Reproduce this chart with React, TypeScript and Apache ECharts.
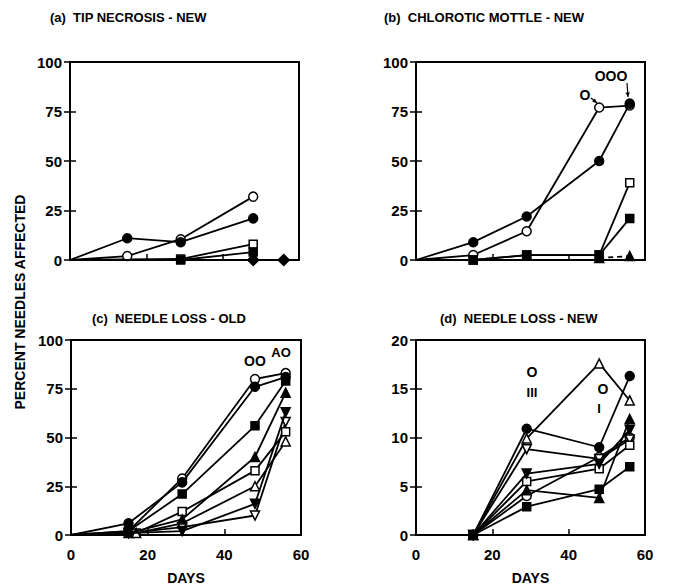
import React, { useEffect, useRef } from "react";
import * as echarts from "echarts";

// ---------- data ----------
const xTicks = [0, 20, 40, 60];
const pctTicks = [0, 25, 50, 75, 100];
const lossNewTicks = [0, 5, 10, 15, 20];

// (a) Tip necrosis - new
const aOpenCircle = [[0, 0], [15, 2], [29, 10.5], [48, 32]];
const aFilledCircle = [[0, 0], [15, 11], [29, 9], [48, 21]];
const aOpenSquare = [[0, 0], [29, 0.5], [48, 8]];
const aFilledSquare = [[0, 0], [29, 0], [48, 4]];
const aFilledDiamond = [[48, 0], [56, 0]];

// (b) Chlorotic mottle - new
const bOpenCircle = [[0, 0], [15, 2.5], [29, 14.5], [48, 77], [56, 78]];
const bFilledCircle = [[0, 0], [15, 9], [29, 22], [48, 50], [56, 79]];
const bOpenSquare = [[0, 0], [15, 0], [29, 2.5], [48, 2.5], [56, 39]];
const bFilledSquare = [[0, 0], [15, 0], [29, 2.5], [48, 2.5], [56, 21]];
const bFilledTriangle = [[48, 1], [56, 2]];

// (c) Needle loss - old
const cOpenCircle = [[0, 0], [15, 2], [29, 29], [48, 80], [56, 83]];
const cFilledCircle = [[0, 0], [15, 6], [29, 27], [48, 76], [56, 81]];
const cFilledSquare = [[0, 0], [15, 2], [29, 21], [48, 56], [56, 79]];
const cFilledTriUp = [[0, 0], [15, 1], [29, 8], [48, 40], [56, 73]];
const cOpenSquare = [[0, 0], [17, 1], [29, 12], [48, 33], [56, 53]];
const cOpenTriUp = [[0, 0], [17, 1], [29, 6], [48, 25], [56, 48]];
const cFilledTriDown = [[0, 0], [15, 1], [29, 2], [48, 16], [56, 63]];
const cOpenTriDown = [[0, 0], [15, 1], [29, 4], [48, 10], [56, 58]];

// (d) Needle loss - new
const dFilledCircle = [[15, 0], [29, 10.9], [48, 9], [56, 16.3]];
const dOpenTriUp = [[15, 0], [29, 9.9], [48, 17.6], [56, 13.8]];
const dOpenTriDown = [[15, 0], [29, 8.8], [48, 7.8], [56, 9.8]];
const dFilledTriDown = [[15, 0], [29, 6.3], [48, 7.3], [56, 10.8]];
const dOpenSquare = [[15, 0], [29, 5.5], [48, 6.8], [56, 9.2]];
const dOpenCircle = [[15, 0], [29, 4], [48, 8], [56, 10]];
const dFilledTriUp = [[15, 0], [29, 4.6], [48, 3.8], [56, 11.9]];
const dFilledSquare = [[15, 0], [29, 2.9], [48, 4.7], [56, 7]];

// ---------- styling helpers ----------
const FONT = "'Liberation Sans Narrow', 'Liberation Sans', Arial, sans-serif";
const DOWN = "path://M0,0 L10,0 L5,9 Z";

type Mk = { symbol: string; filled: boolean; size?: number };
const OC: Mk = { symbol: "circle", filled: false };
const FC: Mk = { symbol: "circle", filled: true };
const OS: Mk = { symbol: "rect", filled: false, size: 8 };
const FS: Mk = { symbol: "rect", filled: true, size: 8 };
const OT: Mk = { symbol: "triangle", filled: false };
const FT: Mk = { symbol: "triangle", filled: true };
const OD: Mk = { symbol: DOWN, filled: false };
const FD: Mk = { symbol: DOWN, filled: true };
const DI: Mk = { symbol: "diamond", filled: true, size: 11 };

function series(
  grid: number,
  data: number[][],
  mk: Mk,
  dashed = false,
  startAt0 = true
) {
  return {
    type: "line",
    xAxisIndex: grid * 2,
    yAxisIndex: grid * 2,
    symbol: mk.symbol,
    symbolSize: mk.size ?? 9,
    showAllSymbol: true,
    lineStyle: { color: "#000", width: 1.8, type: dashed ? [5, 4] : "solid" },
    itemStyle: {
      color: mk.filled ? "#000" : "#fff",
      borderColor: "#000",
      borderWidth: 1.5,
    },
    emphasis: { disabled: true },
    z: mk.filled ? 4 : 3,
    data: data.map(([x, y]) =>
      startAt0 && x === 0 ? { value: [x, y], symbol: "none" } : [x, y]
    ),
  };
}

const grids = [
  { left: 70, top: 62, width: 229, height: 198 },
  { left: 416, top: 62, width: 229, height: 198 },
  { left: 71, top: 340, width: 230, height: 195 },
  { left: 416, top: 340, width: 229, height: 195 },
];

function axesFor(i: number) {
  const showX = i >= 2;
  const yMax = i === 3 ? lossNewTicks[lossNewTicks.length - 1] : pctTicks[pctTicks.length - 1];
  const yInt = i === 3 ? lossNewTicks[1] - lossNewTicks[0] : pctTicks[1] - pctTicks[0];
  const tickStyle = { show: true, inside: true, length: 6, lineStyle: { color: "#000", width: 1.5 } };
  const xAx = [
    {
      type: "value",
      gridIndex: i,
      min: xTicks[0],
      max: xTicks[xTicks.length - 1],
      interval: xTicks[1] - xTicks[0],
      position: "bottom",
      axisLine: { show: false },
      axisTick: tickStyle,
      splitLine: { show: false },
      axisLabel: {
        show: showX,
        color: "#000",
        fontFamily: FONT,
        fontWeight: "bold",
        fontSize: 15,
        margin: 12,
      },
      name: showX ? "DAYS" : "",
      nameLocation: "middle",
      nameGap: 36,
      nameTextStyle: { color: "#000", fontFamily: FONT, fontWeight: "bold", fontSize: 14 },
    },
    {
      type: "value",
      gridIndex: i,
      min: xTicks[0],
      max: xTicks[xTicks.length - 1],
      interval: xTicks[1] - xTicks[0],
      position: "top",
      axisLine: { show: false },
      axisTick: { show: false },
      splitLine: { show: false },
      axisLabel: { show: false },
    },
  ];
  const yAx = [
    {
      type: "value",
      gridIndex: i,
      min: 0,
      max: yMax,
      interval: yInt,
      position: "left",
      axisLine: { show: false },
      axisTick: tickStyle,
      splitLine: { show: false },
      axisLabel: {
        color: "#000",
        fontFamily: FONT,
        fontWeight: "bold",
        fontSize: 15,
        margin: 8,
      },
    },
    {
      type: "value",
      gridIndex: i,
      min: 0,
      max: yMax,
      interval: yInt,
      position: "right",
      axisLine: { show: false },
      axisTick: tickStyle,
      splitLine: { show: false },
      axisLabel: { show: false },
    },
  ];
  return { xAx, yAx };
}

const txt = (x: number, y: number, text: string, size = 13, extra: any = {}) => ({
  type: "text",
  x,
  y,
  style: {
    text,
    fill: "#000",
    font: `bold ${size}px ${FONT}`,
    textAlign: "center",
    textVerticalAlign: "middle",
    ...extra,
  },
});

const arrow = (x1: number, y1: number, x2: number, y2: number) => {
  const ang = Math.atan2(y2 - y1, x2 - x1);
  const h = 5;
  const p1 = [x2 - h * Math.cos(ang - 0.45), y2 - h * Math.sin(ang - 0.45)];
  const p2 = [x2 - h * Math.cos(ang + 0.45), y2 - h * Math.sin(ang + 0.45)];
  return [
    { type: "line", shape: { x1, y1, x2, y2 }, style: { stroke: "#000", lineWidth: 1.2 } },
    { type: "polygon", shape: { points: [[x2, y2], p1, p2] }, style: { fill: "#000" } },
  ];
};

export default function App() {
  const ref = useRef<HTMLDivElement>(null);
  useEffect(() => {
    if (!ref.current) return;
    const chart = echarts.init(ref.current, null, { renderer: "svg" });
    const xAxis: any[] = [];
    const yAxis: any[] = [];
    for (let i = 0; i < 4; i++) {
      const { xAx, yAx } = axesFor(i);
      xAxis.push(...xAx);
      yAxis.push(...yAx);
    }
    const allSeries = [
      series(0, aOpenCircle, OC),
      series(0, aFilledCircle, FC),
      series(0, aOpenSquare, OS),
      series(0, aFilledSquare, FS),
      series(0, aFilledDiamond, DI, true),

      series(1, bOpenCircle, OC),
      series(1, bFilledCircle, FC),
      series(1, bOpenSquare, OS),
      series(1, bFilledSquare, FS),
      series(1, bFilledTriangle, FT, true),

      series(2, cOpenCircle, OC),
      series(2, cFilledCircle, FC),
      series(2, cFilledSquare, FS),
      series(2, cFilledTriUp, FT),
      series(2, cOpenSquare, OS),
      series(2, cOpenTriUp, OT),
      series(2, cFilledTriDown, FD),
      series(2, cOpenTriDown, OD),

      series(3, dOpenCircle, OC, false, false),
      series(3, dOpenTriUp, OT, false, false),
      series(3, dOpenTriDown, OD, false, false),
      series(3, dOpenSquare, OS, false, false),
      series(3, dFilledCircle, FC, false, false),
      series(3, dFilledTriDown, FD, false, false),
      series(3, dFilledTriUp, FT, false, false),
      series(3, dFilledSquare, FS, false, false),
    ];

    chart.setOption({
      animation: false,
      backgroundColor: "#fff",
      grid: grids.map((g) => ({
        ...g,
        show: true,
        borderColor: "#000",
        borderWidth: 2,
        backgroundColor: "transparent",
        containLabel: false,
      })),
      xAxis,
      yAxis,
      series: allSeries,
      graphic: [
        txt(50, 17, "(a)  TIP NECROSIS - NEW", 13, { textAlign: "left" }),
        txt(384, 17, "(b)  CHLOROTIC MOTTLE - NEW", 13, { textAlign: "left" }),
        txt(92, 318, "(c)  NEEDLE LOSS - OLD", 13, { textAlign: "left" }),
        txt(440, 318, "(d)  NEEDLE LOSS - NEW", 13, { textAlign: "left" }),
        {
          type: "text",
          x: 20,
          y: 302,
          rotation: Math.PI / 2,
          style: {
            text: "PERCENT NEEDLES AFFECTED",
            fill: "#000",
            font: `bold 14px ${FONT}`,
            textAlign: "center",
            textVerticalAlign: "middle",
          },
        },
        // (b) annotations
        txt(585, 95, "O", 14),
        ...arrow(591, 98, 597, 103),
        txt(611, 76, "OOO", 14),
        ...arrow(627, 83, 628, 97),
        // (c) annotations
        txt(255, 361, "OO", 14),
        txt(281, 352, "AO", 13),
        // (d) annotations
        txt(532, 372, "O", 14),
        txt(532, 392, "III", 13),
        txt(603, 389, "O", 14),
        txt(599, 408, "I", 13),
      ],
    });
    return () => chart.dispose();
  }, []);
  return (
    <div
      ref={ref}
      style={{ position: "fixed", left: 0, top: 0, width: 681, height: 587, background: "#fff" }}
    />
  );
}
